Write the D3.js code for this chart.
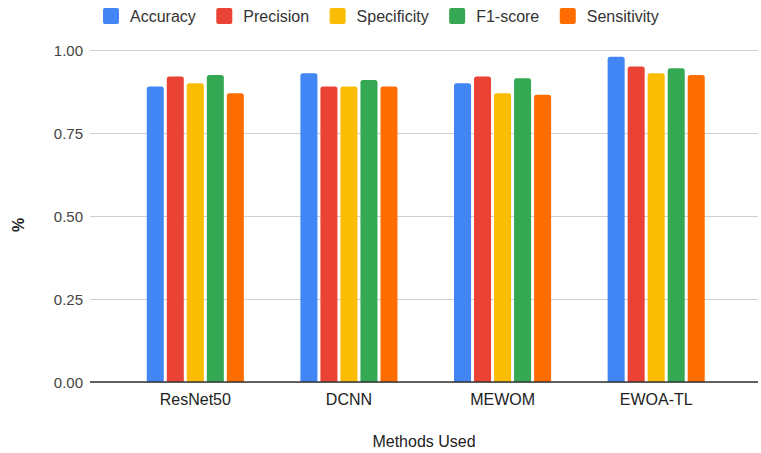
<!DOCTYPE html>
<html>
<head>
<meta charset="utf-8">
<script src="https://cdn.jsdelivr.net/npm/d3@7"></script>
<style>
  html, body { margin: 0; padding: 0; background: #fff; }
  svg text { font-family: "Liberation Sans", Arial, sans-serif; fill: #222; }
</style>
</head>
<body>
<svg id="chart" width="761" height="453"></svg>
<script>
// Methods compared and the metrics reported for each
const methods = ["ResNet50", "DCNN", "MEWOM", "EWOA-TL"];
const metrics = ["Accuracy", "Precision", "Specificity", "F1-score", "Sensitivity"];
const colors = ["#4285F4", "#EA4335", "#FBBC04", "#34A853", "#FF6D01"];

// Metric values, one array per metric in method order
const accuracy    = [0.89, 0.93, 0.90, 0.98];
const precision   = [0.92, 0.89, 0.92, 0.95];
const specificity = [0.90, 0.89, 0.87, 0.93];
const f1score     = [0.925, 0.91, 0.915, 0.945];
const sensitivity = [0.87, 0.89, 0.865, 0.925];

const yTicks = [0, 0.25, 0.5, 0.75, 1.0];

const seriesValues = [accuracy, precision, specificity, f1score, sensitivity];

const svg = d3.select("#chart");
const plotLeft = 90, plotRight = 758;

const x0 = d3.scaleBand().domain(methods).range([118.5, 733])
  .paddingInner(0.368).paddingOuter(0.184);
const x1 = d3.scaleBand().domain(metrics).range([0, x0.bandwidth()])
  .paddingInner(0.15).paddingOuter(0);
const y = d3.scaleLinear().domain([0, 1]).range([382, 50]);
const color = d3.scaleOrdinal().domain(metrics).range(colors);

// Gridlines and tick labels
const yAxis = svg.append("g").attr("transform", `translate(${plotLeft},0)`)
  .call(d3.axisLeft(y).tickValues(yTicks).tickFormat(d3.format(".2f"))
    .tickSize(-(plotRight - plotLeft)).tickPadding(7));
yAxis.select(".domain").remove();
yAxis.selectAll(".tick line").attr("stroke", "#d0d0d0").attr("stroke-width", 1);
yAxis.selectAll(".tick text").style("font-size", "15px").style("fill", "#444")
  .attr("dy", "0.36em");

// Rounded-top bar path
function barPath(x, yTop, w, yBase, r) {
  r = Math.min(r, (yBase - yTop));
  return `M${x},${yBase}V${yTop + r}Q${x},${yTop} ${x + r},${yTop}` +
         `H${x + w - r}Q${x + w},${yTop} ${x + w},${yTop + r}V${yBase}Z`;
}

const rows = methods.map((m, i) => ({
  method: m,
  vals: metrics.map((k, j) => ({ key: k, value: seriesValues[j][i] }))
}));

const groups = svg.append("g").selectAll("g").data(rows).join("g")
  .attr("transform", d => `translate(${x0(d.method)},0)`);

groups.selectAll("path").data(d => d.vals).join("path")
  .attr("d", d => barPath(x1(d.key), y(d.value), x1.bandwidth(), y(0), 2.5))
  .attr("fill", d => color(d.key));

// Baseline
svg.append("line").attr("x1", plotLeft).attr("x2", plotRight).attr("y1", y(0)).attr("y2", y(0))
  .attr("stroke", "#333").attr("stroke-width", 1.3);

// Category labels
const xAxis = svg.append("g").attr("transform", `translate(0,${y(0)})`)
  .call(d3.axisBottom(x0).tickSize(0).tickPadding(12));
xAxis.select(".domain").remove();
xAxis.selectAll(".tick text").style("font-size", "16px").style("fill", "#222");

// Axis titles
svg.append("text").attr("x", (plotLeft + plotRight) / 2).attr("y", 447).attr("text-anchor", "middle")
  .style("font-size", "16px").text("Methods Used");
svg.append("text").attr("transform", "translate(24,225) rotate(-90)")
  .attr("text-anchor", "middle").style("font-size", "16px").style("font-weight", "bold")
  .text("%");

// Legend
const legend = svg.append("g");
let lx = 103;
metrics.forEach((k, i) => {
  legend.append("rect").attr("x", lx).attr("y", 8).attr("width", 16).attr("height", 16)
    .attr("rx", 2).attr("fill", colors[i]);
  const t = legend.append("text").attr("x", lx + 27).attr("y", 22)
    .style("font-size", "16px").style("fill", "#333").text(k);
  lx += 27 + t.node().getComputedTextLength() + 20.5;
});
</script>
</body>
</html>
